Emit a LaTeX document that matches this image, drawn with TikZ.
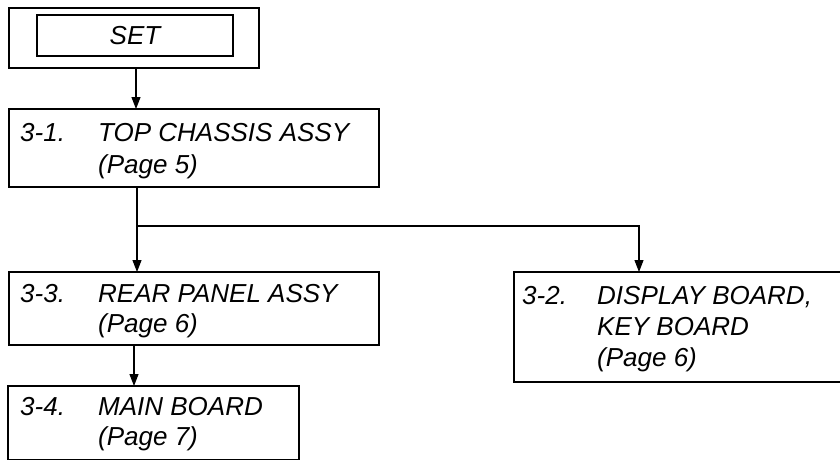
\documentclass[tikz,border=0pt]{standalone}
\usepackage{fontspec}
\setmainfont{Liberation Sans}
\usetikzlibrary{arrows.meta}
\begin{document}
\begin{tikzpicture}[x=1pt,y=-1pt,
  box/.style={draw, line width=1.1pt, rectangle, inner sep=0pt, outer sep=0pt},
  arr/.style={line width=1.1pt, -{Triangle[length=12pt,width=9pt]}},
  conn/.style={line width=1.1pt},
  lbl/.style={anchor=base west, inner sep=0pt, font=\fontsize{26}{31}\selectfont\itshape}]
\clip (0,0) rectangle (840,459);
\fill[white] (0,0) rectangle (840,459);
% boxes
\node[box, minimum width=250pt, minimum height=60pt] (setout) at (134,38) {};
\node[box, minimum width=196pt, minimum height=41pt, font=\fontsize{26}{31}\selectfont\itshape] (setin) at (135,35.5) {SET};
\node[box, minimum width=370pt, minimum height=78pt] (tc) at (194,148) {};
\node[box, minimum width=370pt, minimum height=73pt] (rp) at (194,308.5) {};
\node[box, minimum width=291pt, minimum height=74pt] (mb) at (153.5,423) {};
\node[box, minimum width=336pt, minimum height=110pt] (db) at (682,327) {};
% labels
\node[lbl] (tcn) at (20,141) {3-1.};
\node[lbl] (tct) at (98,141) {TOP CHASSIS ASSY};
\node[lbl] (tcp) at (98,173) {(Page 5)};
\node[lbl] (rpn) at (20,302) {3-3.};
\node[lbl] (rpt) at (98,302) {REAR PANEL ASSY};
\node[lbl] (rpp) at (98,332) {(Page 6)};
\node[lbl] (mbn) at (20,415) {3-4.};
\node[lbl] (mbt) at (98,415) {MAIN BOARD};
\node[lbl] (mbp) at (98,445) {(Page 7)};
\node[lbl] (dbn) at (522,304) {3-2.};
\node[lbl] (dbt) at (597,304) {DISPLAY BOARD,};
\node[lbl] (dbk) at (597,335) {KEY BOARD};
\node[lbl] (dbp) at (597,366) {(Page 6)};
% connectors
\coordinate (a1) at (136,0);
\draw[arr] (setout.south -| a1) -- (tc.north -| a1);
\coordinate (br) at (137,226);
\coordinate (brr) at (639,226);
\draw[conn] (tc.south -| br) -- (br);
\draw[arr] (br) -- (rp.north -| br);
\draw[arr] (br) -- (brr) -- (db.north -| brr);
\coordinate (a2) at (134,0);
\draw[arr] (rp.south -| a2) -- (mb.north -| a2);
\end{tikzpicture}
\end{document}
